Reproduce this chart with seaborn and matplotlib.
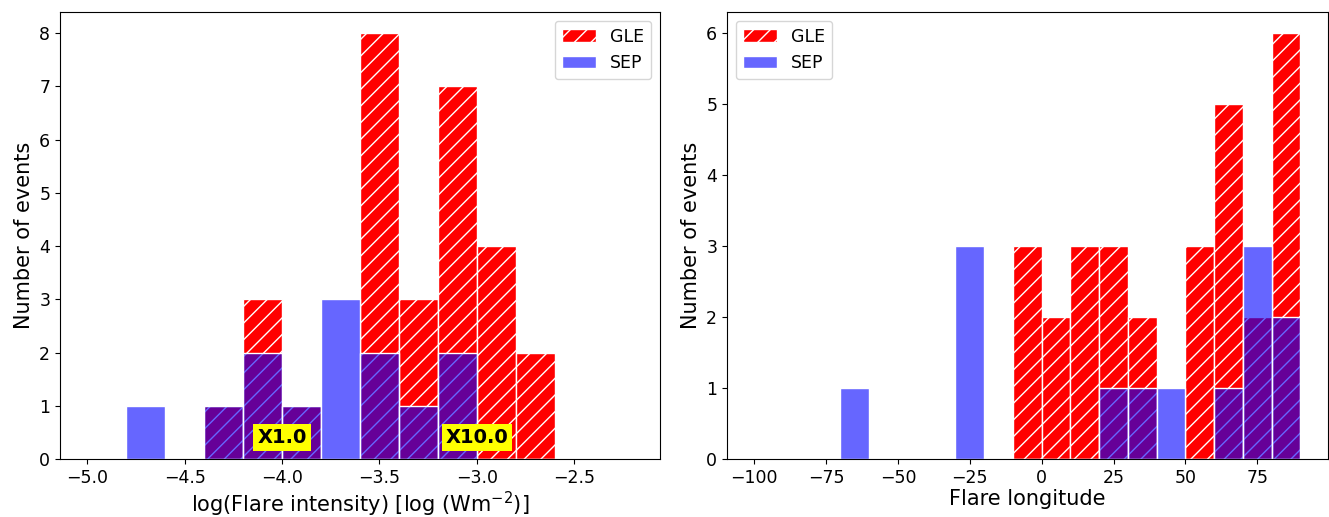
"""Flare intensity and longitude histograms for GLE and SEP events."""

import matplotlib
matplotlib.use("Agg")
import matplotlib.pyplot as plt
import numpy as np
import pandas as pd
import seaborn as sns

# log flare intensity bins (width 0.2) and counts per bin
INT_EDGES = [-5.0, -4.8, -4.6, -4.4, -4.2, -4.0, -3.8, -3.6, -3.4, -3.2,
             -3.0, -2.8, -2.6, -2.4, -2.2]
INT_GLE = [0, 0, 0, 1, 3, 1, 0, 8, 3, 7, 4, 2, 0, 0]
INT_SEP = [0, 1, 0, 1, 2, 1, 3, 2, 1, 2, 0, 0, 0, 0]

# flare longitude bins (width 10 deg) and counts per bin
LON_EDGES = [-100, -90, -80, -70, -60, -50, -40, -30, -20, -10, 0, 10, 20,
             30, 40, 50, 60, 70, 80, 90]
LON_GLE = [0, 0, 0, 0, 0, 0, 0, 0, 0, 3, 2, 3, 3, 2, 0, 3, 5, 2, 6]
LON_SEP = [0, 0, 0, 1, 0, 0, 0, 3, 0, 0, 0, 0, 1, 1, 1, 0, 1, 3, 2]

GLE_COLOR = "red"
SEP_COLOR = "blue"

plt.rcParams["hatch.linewidth"] = 1.0


def draw_pair(ax, edges, gle, sep):
    e = np.asarray(edges, dtype=float)
    df = pd.DataFrame({"x": (e[:-1] + e[1:]) / 2, "gle": gle, "sep": sep})
    # bins passed as a list: seaborn chokes on an ndarray here
    sns.histplot(data=df, x="x", weights="gle", bins=list(edges), ax=ax,
                 color=GLE_COLOR, alpha=1.0, hatch="//", edgecolor="white",
                 linewidth=1.0, label="GLE")
    sns.histplot(data=df, x="x", weights="sep", bins=list(edges), ax=ax,
                 color=SEP_COLOR, alpha=0.6, edgecolor="white",
                 linewidth=1.0, label="SEP")
    ax.set_ylabel("Number of events", fontsize=15)
    ax.tick_params(labelsize=12.5)


fig = plt.figure(figsize=(13.29, 5.17), dpi=100)
ax1 = fig.add_axes([0.0451, 0.1122, 0.4515, 0.8646])
ax2 = fig.add_axes([0.547, 0.1122, 0.452, 0.8646])

draw_pair(ax1, INT_EDGES, INT_GLE, INT_SEP)
ax1.set_xlabel(r"log(Flare intensity) [log (Wm$^{-2}$)]", fontsize=15,
               labelpad=2)
ax1.legend(loc="upper right", fontsize=12.5)
for xpos, txt in [(-4.0, "X1.0"), (-3.0, "X10.0")]:
    ax1.text(xpos, 0.4, txt, ha="center", va="center", fontsize=14,
             fontweight="bold",
             bbox=dict(boxstyle="square,pad=0.2", facecolor="yellow",
                       edgecolor="none"))

draw_pair(ax2, LON_EDGES, LON_GLE, LON_SEP)
ax2.set_xlabel("Flare longitude", fontsize=15, labelpad=2)
ax2.legend(loc="upper left", fontsize=12.5)

fig.savefig("out.png", dpi=100)
